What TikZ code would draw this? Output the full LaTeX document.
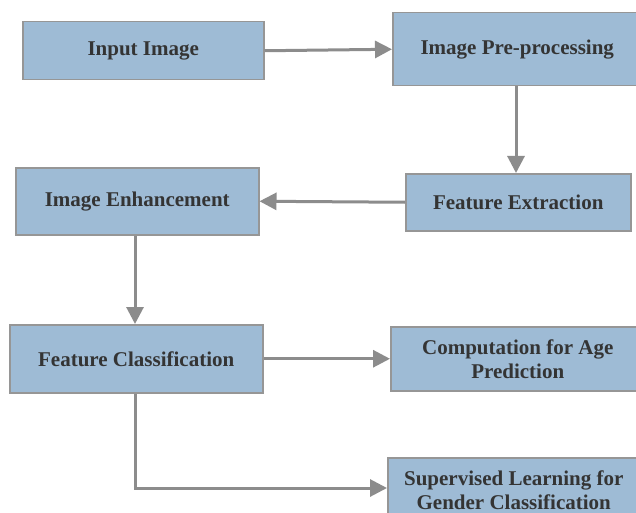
\documentclass[tikz,border=0pt]{standalone}
\usepackage{fontspec}
\setmainfont{Liberation Serif}
\usetikzlibrary{arrows.meta}
\definecolor{boxfill}{RGB}{158,187,213}
\definecolor{boxline}{RGB}{150,150,150}
\definecolor{arrowgray}{RGB}{140,140,140}
\definecolor{textgray}{RGB}{52,52,52}
\tikzset{
  stage/.style={draw=boxline, line width=1.5pt, fill=boxfill, anchor=north west,
    inner sep=0pt, align=center, text=textgray,
    font=\fontsize{21}{24}\selectfont\bfseries},
  flow/.style={draw=arrowgray, line width=3pt,
    -{Triangle[length=17pt,width=17pt]}}
}
\begin{document}
\begin{tikzpicture}[x=1pt,y=-1pt]
\useasboundingbox (0,0) rectangle (636,513);
\clip (0,0) rectangle (636,513);
\fill[white] (0,0) rectangle (636,513);

\node[stage, minimum width=241pt, minimum height=58pt] (inp) at (22,21) {Input Image};
\node[stage, minimum width=249pt, minimum height=73pt] (pre) at (392,12) {Image Pre-processing};
\node[stage, minimum width=225pt, minimum height=57pt] (ext) at (405,173) {Feature Extraction};
\node[stage, minimum width=243pt, minimum height=67pt] (enh) at (15,167) {Image Enhancement};
\node[stage, minimum width=253pt, minimum height=68pt] (cls) at (9,324) {Feature Classification};
\node[stage, minimum width=254pt, minimum height=64pt] (age) at (390,326) {Computation for Age\\Prediction};
\node[stage, minimum width=252pt, minimum height=65pt] (gen) at (387,457) {Supervised Learning for\\Gender Classification};

\coordinate (bend) at (135,488);

\draw[flow] (inp.east) -- (pre.west);
\draw[flow] (pre.south -| 516,0) -- (ext.north -| 516,0);
\draw[flow] (ext.west) -- (enh.east);
\draw[flow] (enh.south -| 135,0) -- (cls.north -| 135,0);
\draw[flow] (cls.east) -- (age.west);
\draw[flow] (cls.south -| bend) -- (bend) -- (gen.west |- bend);
\end{tikzpicture}
\end{document}
